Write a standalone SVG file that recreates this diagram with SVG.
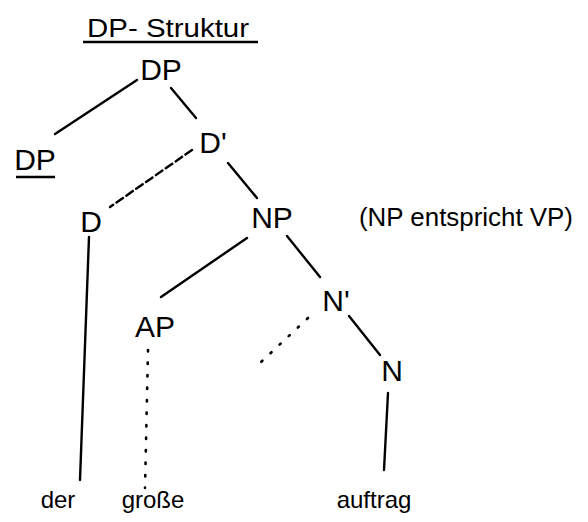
<svg xmlns="http://www.w3.org/2000/svg" width="588" height="522" viewBox="0 0 588 522">
<style>
text{font-family:"Liberation Sans",Arial,sans-serif;fill:#000}
.n{font-size:30px;text-anchor:middle}
.w{font-size:24px;text-anchor:middle}
.e{stroke:#000;stroke-width:2.4;fill:none;stroke-linecap:round}
.dash{stroke-dasharray:8 4}
.dot{stroke-dasharray:1.5 11;stroke-width:2.6}
.ul{stroke:#000;stroke-width:2.4}
</style>
<rect width="588" height="522" fill="#fff"/>
<g id="title">
<text x="87" y="37" font-size="26" textLength="162" lengthAdjust="spacingAndGlyphs">DP- Struktur</text>
<line class="ul" x1="83" y1="42" x2="258" y2="42"/>
</g>
<g id="note"><text x="359" y="226" font-size="26" textLength="214" lengthAdjust="spacingAndGlyphs">(NP entspricht VP)</text></g>
<g id="connectors">
<line class="e" x1="137" y1="80" x2="55" y2="134"/>
<line class="e" x1="171" y1="88" x2="196" y2="118"/>
<line class="e dash" x1="192" y1="150" x2="110" y2="207"/>
<line class="e" x1="228" y1="163" x2="257" y2="198"/>
<line class="e" x1="89" y1="237" x2="80" y2="480"/>
<line class="e" x1="247" y1="238" x2="161" y2="297"/>
<line class="e" x1="287" y1="236" x2="320" y2="277"/>
<line class="e dot" x1="308" y1="318" x2="260" y2="363"/>
<line class="e" x1="349" y1="316" x2="380" y2="355"/>
<line class="e dot" x1="148" y1="350" x2="145" y2="488"/>
<line class="e" x1="388" y1="393" x2="384" y2="470"/>
</g>
<g id="n-dp-root"><text class="n" x="161" y="80">DP</text></g>
<g id="n-dp-spec"><text class="n" x="35" y="170">DP</text><line class="ul" x1="16" y1="177" x2="55" y2="177"/></g>
<g id="n-dbar"><text class="n" x="213" y="153">D'</text></g>
<g id="n-d"><text class="n" x="91" y="232">D</text></g>
<g id="n-np"><text class="n" x="272" y="228">NP</text></g>
<g id="n-ap"><text class="n" x="155" y="337">AP</text></g>
<g id="n-nbar"><text class="n" x="336" y="311">N'</text></g>
<g id="n-n"><text class="n" x="392" y="381">N</text></g>
<g id="w-der"><text class="w" x="58" y="508">der</text></g>
<g id="w-grosse"><text class="w" x="153" y="508">große</text></g>
<g id="w-auftrag"><text class="w" x="374" y="508">auftrag</text></g>
</svg>
